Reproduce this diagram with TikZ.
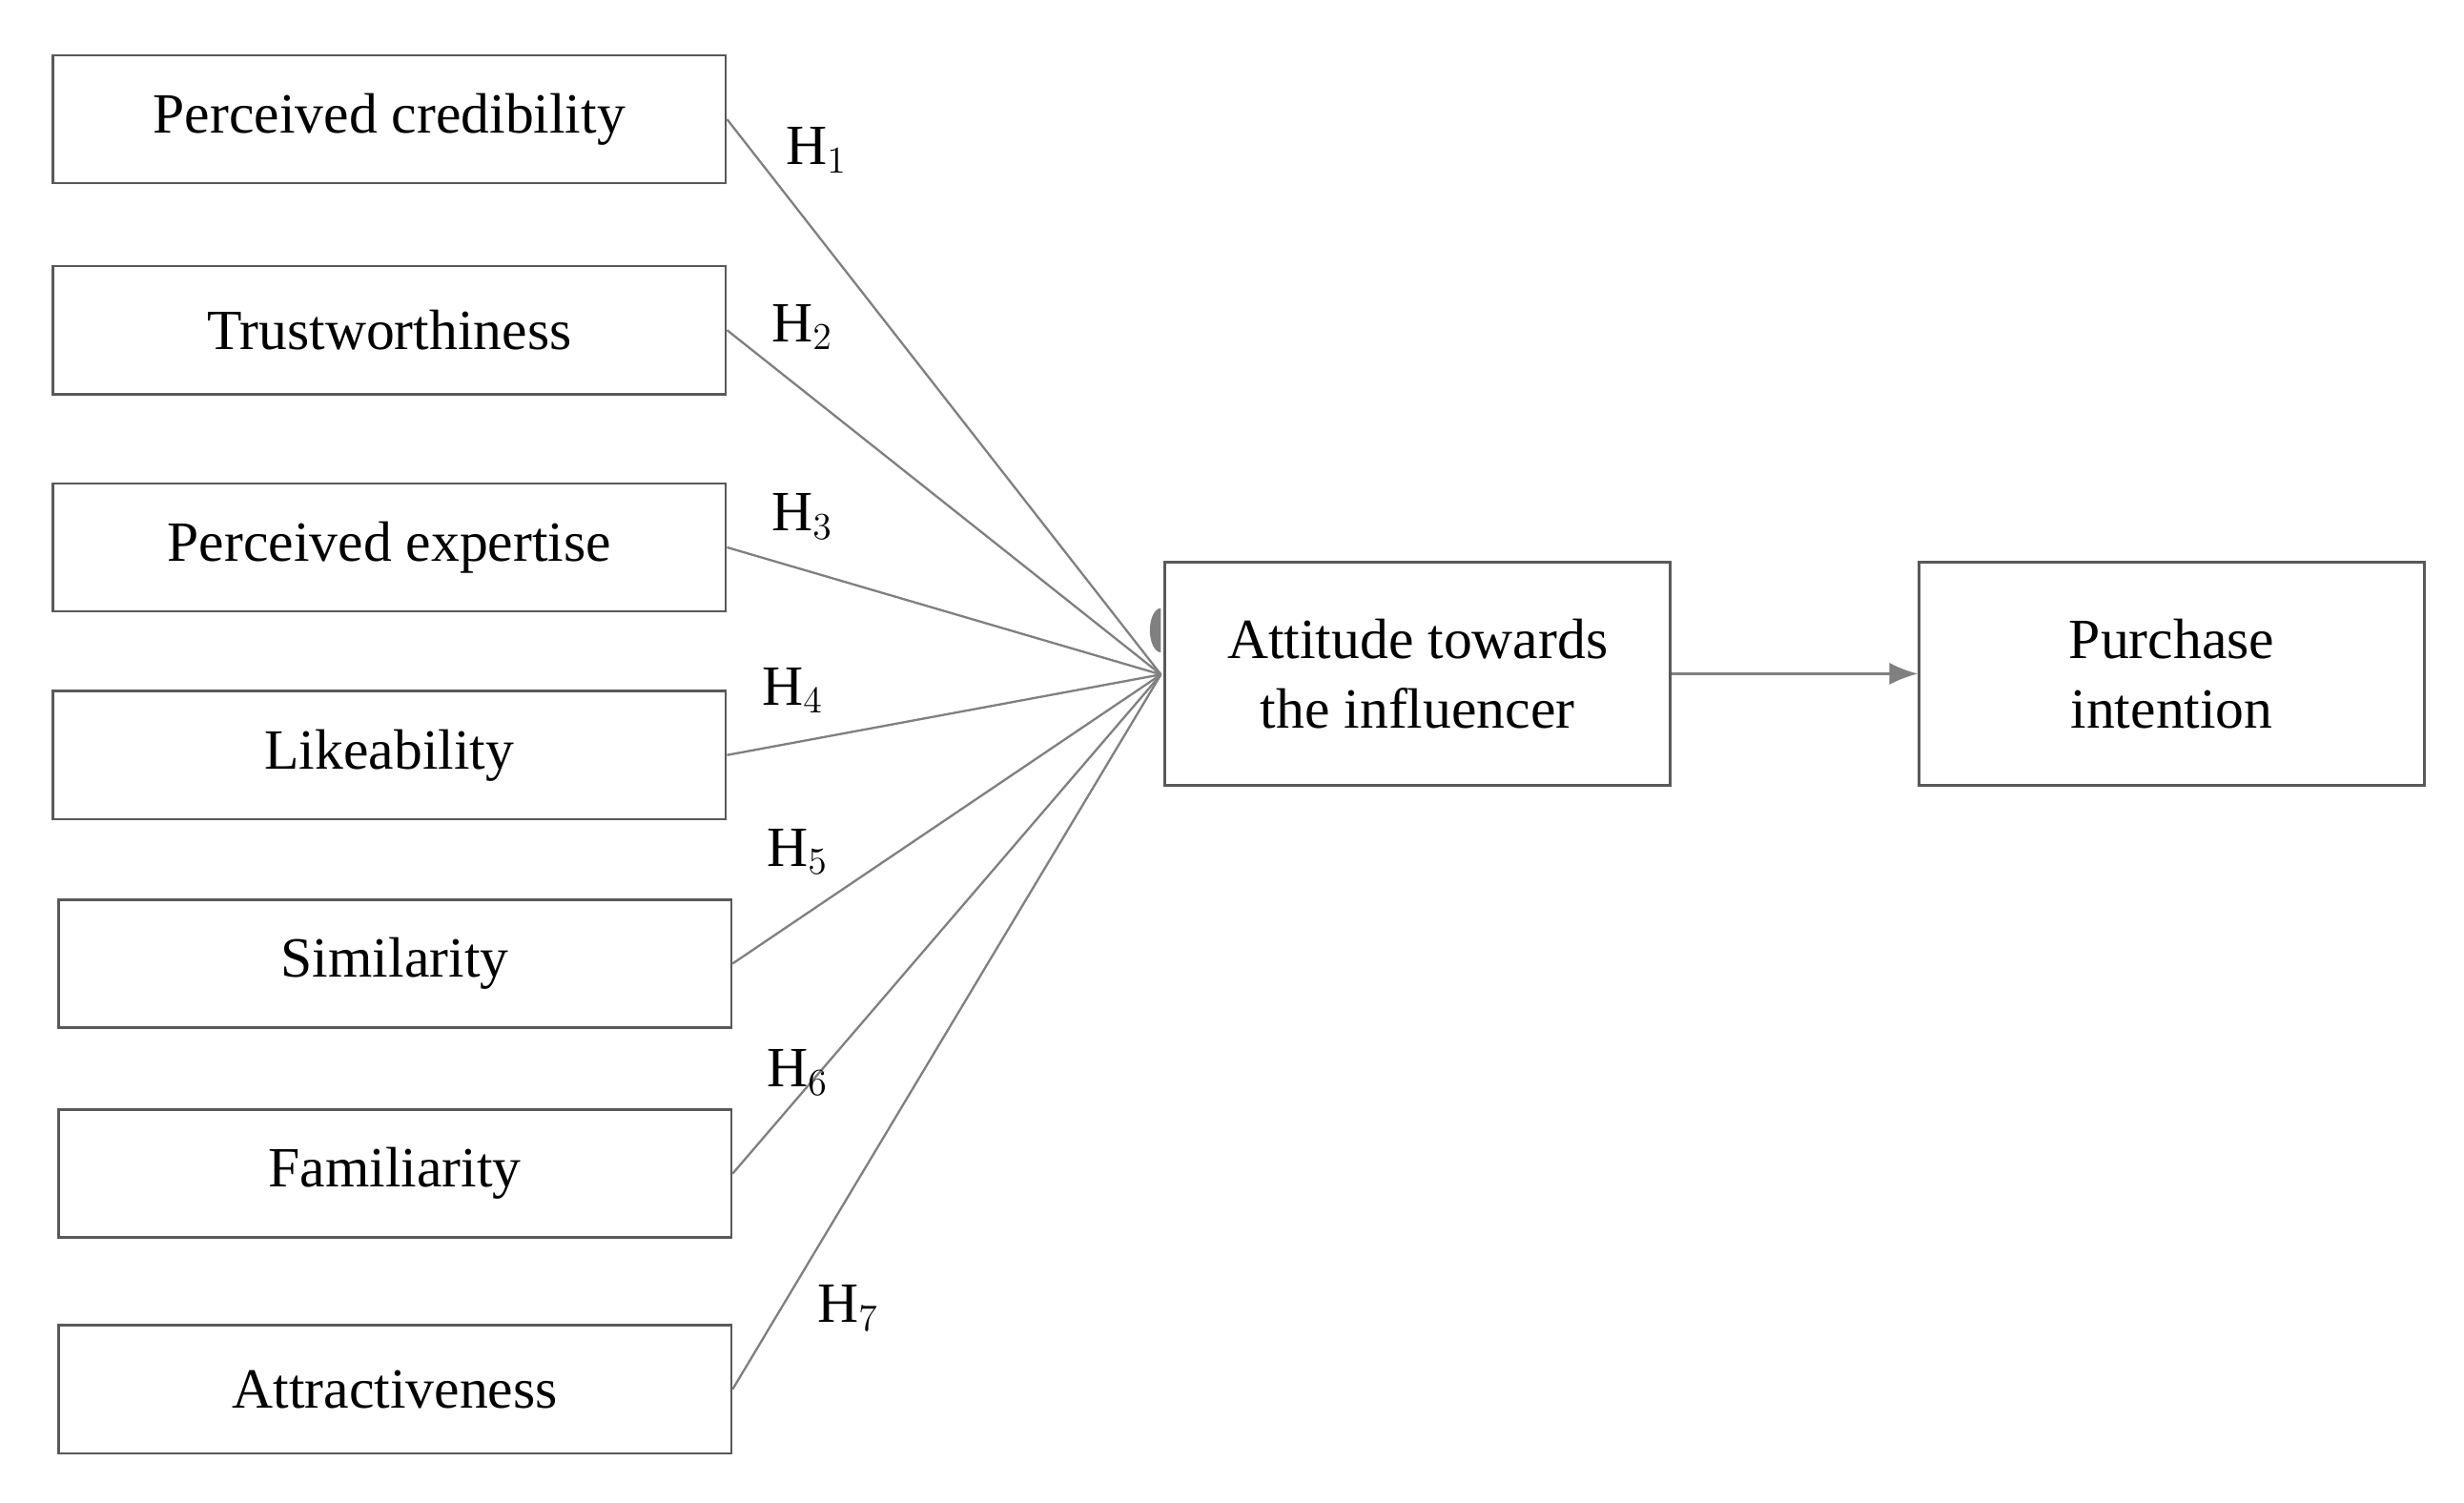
\documentclass[tikz,border=0pt]{standalone}
\usepackage{fontspec}
\setmainfont{Liberation Serif}
\usetikzlibrary{arrows.meta}
\begin{document}
\begin{tikzpicture}[x=0.5pt,y=-0.5pt,
  box/.style={draw=black!65,line width=0.8pt,minimum width=213pt,minimum height=40.5pt,inner sep=0pt,font=\fontsize{18}{22}\selectfont,align=center},
  big/.style={box,minimum width=160pt,minimum height=70.5pt},
  ln/.style={draw=black!50,line width=0.7pt},
  lab/.style={font=\fontsize{18}{22}\selectfont}]
\useasboundingbox (0,0) rectangle (1560,951);
\node[box] (a1) at (246.5,75.5) {Perceived credibility};
\node[box] (a2) at (246.5,209) {Trustworthiness};
\node[box] (a3) at (246.5,346.5) {Perceived expertise};
\node[box] (a4) at (246.5,478) {Likeability};
\node[box] (a5) at (250,610) {Similarity};
\node[box] (a6) at (250,743) {Familiarity};
\node[box] (a7) at (250,879.5) {Attractiveness};
\node[big] (att) at (897.5,426.5) {Attitude towards\\the influencer};
\node[big] (pi) at (1375,426.5) {Purchase\\intention};
\coordinate (c) at (735,427);
\foreach \i in {1,...,7}{\draw[ln] (a\i.east) -- (c);}
\fill[black!50] (c) ++(0,-14) arc (90:270:7 and 14) -- cycle;
\draw[ln,-{Latex[length=9pt,width=7pt]}] (att.east) -- (pi.west);
\node[lab] (h1) at (517,95) {H$_1$};
\node[lab] (h2) at (508,207) {H$_2$};
\node[lab] (h3) at (508,327) {H$_3$};
\node[lab] (h4) at (502,437) {H$_4$};
\node[lab] (h5) at (505,539) {H$_5$};
\node[lab] (h6) at (505,679) {H$_6$};
\node[lab] (h7) at (537,828) {H$_7$};
\end{tikzpicture}
\end{document}
